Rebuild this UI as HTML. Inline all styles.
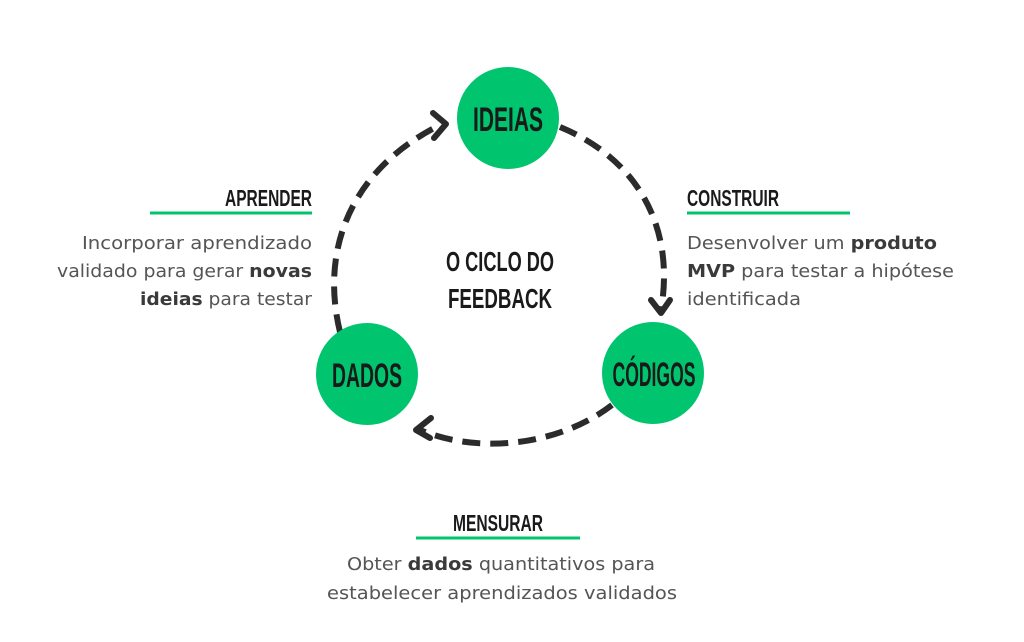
<!DOCTYPE html>
<html><head><meta charset="utf-8"><style>
html,body{margin:0;padding:0;background:#fff;}
svg{display:block;}
.h{font-family:"Liberation Sans Narrow","Liberation Sans",sans-serif;font-weight:bold;fill:#1a1a1a;}
.t{font-family:"DejaVu Sans","Liberation Sans",sans-serif;font-size:18px;fill:#555;}
.t tspan.b{font-weight:bold;fill:#3a3a3a;}
</style></head><body>
<svg width="1024" height="642" viewBox="0 0 1024 642" xmlns="http://www.w3.org/2000/svg">
<rect width="1024" height="642" fill="#fff"/>
<g fill="none" stroke="#2b2b2b" stroke-width="6" stroke-dasharray="18,10" stroke-linecap="butt">
<path d="M340,332 C320,250 350,170 440,125"/>
<path d="M560,127 C640,160 675,230 661,310"/>
<path d="M612,405 C560,445 480,455 420,430"/>
</g>
<g fill="none" stroke="#2b2b2b" stroke-width="6" stroke-linecap="round" stroke-linejoin="round">
<path d="M433,113 L446,124 L434,138"/>
<path d="M651,300 L661,313 L670,300"/>
<path d="M431,418 L416,430 L430,438"/>
</g>
<circle cx="508" cy="118" r="51" fill="#00c56e"/>
<circle cx="653" cy="373" r="51" fill="#00c56e"/>
<circle cx="367" cy="374" r="51" fill="#00c56e"/>
<g class="h" text-anchor="middle">
<text x="508" y="131" font-size="34" textLength="70" lengthAdjust="spacingAndGlyphs">IDEIAS</text>
<text x="654" y="386" font-size="34" textLength="83" lengthAdjust="spacingAndGlyphs">CÓDIGOS</text>
<text x="367" y="387" font-size="34" textLength="70" lengthAdjust="spacingAndGlyphs">DADOS</text>
<text x="500" y="271" font-size="28" textLength="108" lengthAdjust="spacingAndGlyphs">O CICLO DO</text>
<text x="500" y="308" font-size="28" textLength="104" lengthAdjust="spacingAndGlyphs">FEEDBACK</text>
</g>
<g class="h" font-size="23">
<text x="312" y="206" text-anchor="end" textLength="87" lengthAdjust="spacingAndGlyphs">APRENDER</text>
<text x="687" y="206" textLength="92" lengthAdjust="spacingAndGlyphs">CONSTRUIR</text>
<text x="498" y="531" text-anchor="middle" textLength="90" lengthAdjust="spacingAndGlyphs">MENSURAR</text>
</g>
<g stroke="#00c56e" stroke-width="3">
<line x1="150" y1="213" x2="312" y2="213"/>
<line x1="687" y1="213" x2="850" y2="213"/>
<line x1="416" y1="538" x2="580" y2="538"/>
</g>
<g class="t">
<text x="82" y="249" textLength="230" lengthAdjust="spacingAndGlyphs">Incorporar aprendizado</text>
<text x="57" y="277" textLength="255" lengthAdjust="spacingAndGlyphs">validado para gerar <tspan class="b">novas</tspan></text>
<text x="140" y="305" textLength="172" lengthAdjust="spacingAndGlyphs"><tspan class="b">ideias</tspan> para testar</text>
<text x="687" y="249" textLength="250" lengthAdjust="spacingAndGlyphs">Desenvolver um <tspan class="b">produto</tspan></text>
<text x="687" y="277" textLength="267" lengthAdjust="spacingAndGlyphs"><tspan class="b">MVP</tspan> para testar a hipótese</text>
<text x="687" y="305" textLength="114" lengthAdjust="spacingAndGlyphs">identificada</text>
<text x="347" y="570" textLength="308" lengthAdjust="spacingAndGlyphs">Obter <tspan class="b">dados</tspan> quantitativos para</text>
<text x="327" y="599" textLength="350" lengthAdjust="spacingAndGlyphs">estabelecer aprendizados validados</text>
</g>
</svg>
</body></html>
